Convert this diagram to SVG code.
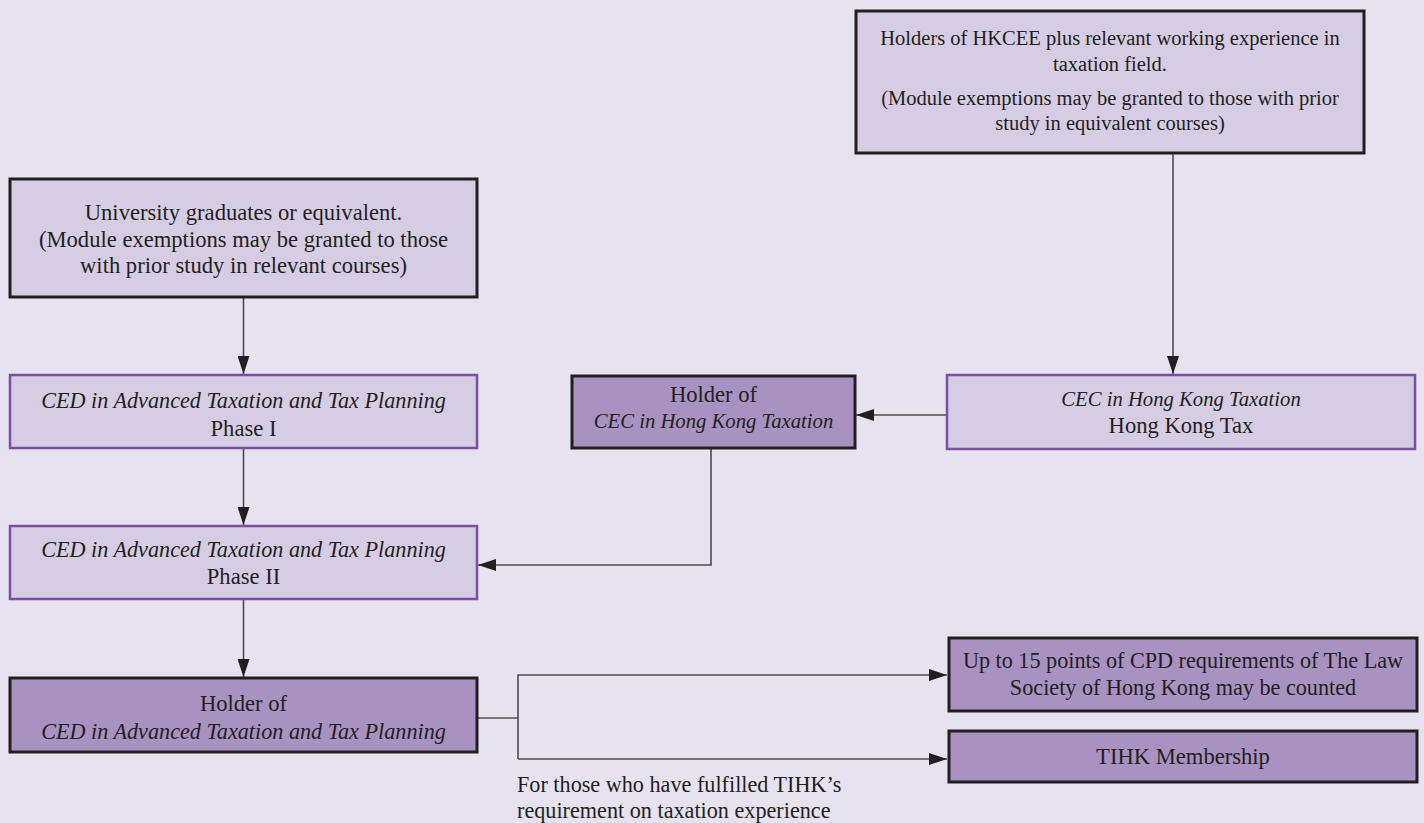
<svg xmlns="http://www.w3.org/2000/svg" width="1424" height="823" viewBox="0 0 1424 823">
<defs>
<style>
.bg{fill:#e6e2f0}
.light{fill:#d6cce4;stroke:#7b4ea0;stroke-width:2.5}
.lightb{fill:#d6cce4;stroke:#231f20;stroke-width:3}
.dark{fill:#a991c1;stroke:#231f20;stroke-width:3}
text{font-family:"Liberation Serif","DejaVu Serif",serif;font-size:22.6px;fill:#231f20;text-anchor:middle}
.it{font-style:italic;font-size:22.2px}
.sm{font-size:20.5px}
.cec{font-style:italic;font-size:20.7px}
.lbl{text-anchor:start;font-size:22.2px}
.con{fill:none;stroke:#4d4d4f;stroke-width:1.6}
</style>
<marker id="ah" viewBox="0 0 18 12" refX="18" refY="6" markerWidth="18" markerHeight="12" markerUnits="userSpaceOnUse" orient="auto">
<path d="M0,0 L18,6 L0,12 Z" fill="#231f20"/>
</marker>
</defs>
<rect class="bg" x="0" y="0" width="1424" height="823"/>

<g id="connectors">
<line class="con" x1="1173" y1="153" x2="1173" y2="374" marker-end="url(#ah)"/>
<line class="con" x1="947" y1="415" x2="856" y2="415" marker-end="url(#ah)"/>
<line class="con" x1="243.5" y1="297" x2="243.5" y2="374" marker-end="url(#ah)"/>
<line class="con" x1="243.5" y1="448" x2="243.5" y2="525" marker-end="url(#ah)"/>
<polyline class="con" points="711,448 711,565 478,565" marker-end="url(#ah)"/>
<line class="con" x1="243.5" y1="599" x2="243.5" y2="677" marker-end="url(#ah)"/>
<polyline class="con" points="477,718 518,718"/>
<polyline class="con" points="518,759 518,675 947,675" marker-end="url(#ah)"/>
<polyline class="con" points="518,759 947,759" marker-end="url(#ah)"/>
</g>

<g id="node-hkcee">
<rect class="lightb" x="856" y="11" width="508" height="142"/>
<text class="sm" x="1110" y="45">Holders of HKCEE plus relevant working experience in</text>
<text class="sm" x="1110" y="71">taxation field.</text>
<text class="sm" x="1110" y="105">(Module exemptions may be granted to those with prior</text>
<text class="sm" x="1110" y="130">study in equivalent courses)</text>
</g>

<g id="node-university">
<rect class="lightb" x="10" y="179" width="467" height="118"/>
<text x="243.5" y="220">University graduates or equivalent.</text>
<text x="243.5" y="247">(Module exemptions may be granted to those</text>
<text x="243.5" y="273">with prior study in relevant courses)</text>
</g>

<g id="node-phase1">
<rect class="light" x="10" y="375" width="467" height="73"/>
<text class="it" x="243.5" y="408">CED in Advanced Taxation and Tax Planning</text>
<text x="243.5" y="436">Phase I</text>
</g>

<g id="node-holder-cec">
<rect class="dark" x="572" y="376" width="283" height="72"/>
<text x="713.5" y="402">Holder of</text>
<text class="cec" x="713.5" y="428">CEC in Hong Kong Taxation</text>
</g>

<g id="node-cec-hk">
<rect class="light" x="947" y="375" width="468" height="74"/>
<text class="cec" x="1181" y="406">CEC in Hong Kong Taxation</text>
<text x="1181" y="433">Hong Kong Tax</text>
</g>

<g id="node-phase2">
<rect class="light" x="10" y="526" width="467" height="73"/>
<text class="it" x="243.5" y="557">CED in Advanced Taxation and Tax Planning</text>
<text x="243.5" y="584">Phase II</text>
</g>

<g id="node-holder-ced">
<rect class="dark" x="10" y="678" width="467" height="74"/>
<text x="243.5" y="711">Holder of</text>
<text class="it" x="243.5" y="739">CED in Advanced Taxation and Tax Planning</text>
</g>

<g id="node-cpd">
<rect class="dark" x="949" y="638" width="468" height="73"/>
<text class="it" style="font-style:normal" x="1183" y="668">Up to 15 points of CPD requirements of The Law</text>
<text class="it" style="font-style:normal" x="1183" y="695">Society of Hong Kong may be counted</text>
</g>

<g id="node-tihk">
<rect class="dark" x="949" y="731" width="468" height="51"/>
<text x="1183" y="764">TIHK Membership</text>
</g>

<g id="label-tihk">
<text class="lbl" x="517" y="792">For those who have fulfilled TIHK’s</text>
<text class="lbl" x="517" y="818">requirement on taxation experience</text>
</g>
</svg>
